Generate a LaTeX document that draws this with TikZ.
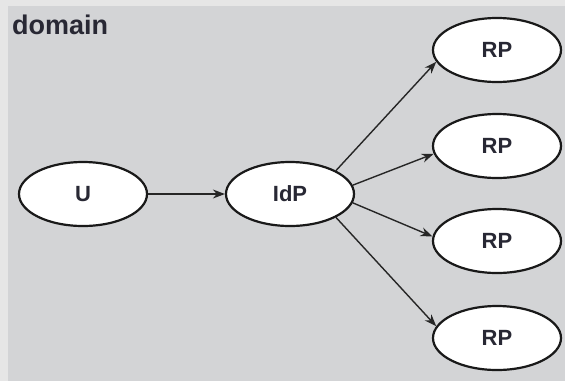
\documentclass[tikz,border=0pt]{standalone}
\usepackage{tikz}
\usepackage{xcolor}
\usepackage{fontspec}
\setmainfont{Liberation Sans}
\usetikzlibrary{shapes.geometric, arrows.meta, positioning}
\definecolor{domainGray}{RGB}{211, 212, 214}
\definecolor{domainBorder}{RGB}{230, 230, 230}
\definecolor{domainText}{RGB}{40, 40, 52}

\tikzset{
    party/.style={draw=black!90, fill=white, ellipse, line width=2.2pt, minimum width=128pt, minimum height=64pt, inner sep=0pt, font=\fontsize{22}{26}\selectfont\bfseries, text=domainText},
    flow/.style={-{Stealth[length=12pt, width=9pt]}, line width=1.4pt, draw=black!85}
}

\begin{document}
\begin{tikzpicture}[x=1pt, y=-1pt]
    \fill[domainBorder] (0,0) rectangle (565,381);
    \fill[domainGray] (8,6) rectangle (565,381);
    \useasboundingbox (0,0) rectangle (565,381);
    \node[anchor=base west, text=domainText, font=\fontsize{27}{30}\selectfont\bfseries, inner sep=0pt] (label) at (12,34) {domain};

    \node[party] (user) at (83,194) {U};
    \node[party] (idp) at (290,194) {IdP};
    \node[party] (rp1) at (497,50) {RP};
    \node[party] (rp2) at (497,146) {RP};
    \node[party] (rp3) at (497,241) {RP};
    \node[party] (rp4) at (497,338) {RP};

    \draw[flow] (user) -- (idp);
    \draw[flow] (idp.27) -- (rp1.191);
    \draw[flow] (idp.8) -- (rp2.187);
    \draw[flow] (idp.-8) -- (rp3.176);
    \draw[flow] (idp.-27) -- (rp4.169);
\end{tikzpicture}
\end{document}
